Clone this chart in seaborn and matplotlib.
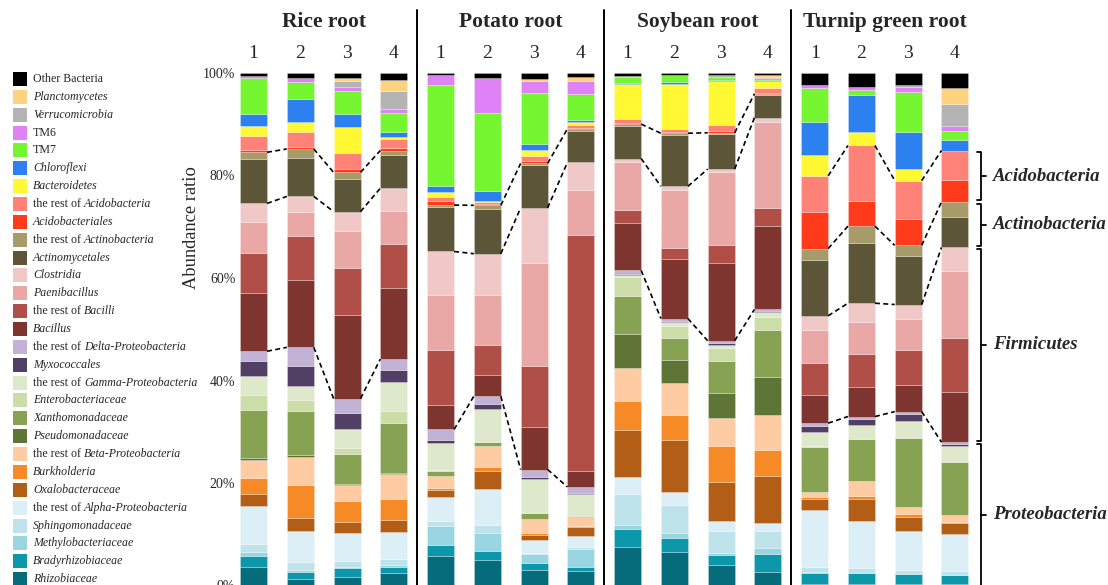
import numpy as np
import pandas as pd
import matplotlib
matplotlib.use("Agg")
import matplotlib.pyplot as plt
import seaborn as sns
from matplotlib.patches import Rectangle

# ---------------- data (legend order, top of stack first) ----------------
taxa = [
    "Other Bacteria", "Planctomycetes", "Verrucomicrobia", "TM6", "TM7",
    "Chloroflexi", "Bacteroidetes", "the rest of Acidobacteria", "Acidobacteriales",
    "the rest of Actinobacteria", "Actinomycetales", "Clostridia", "Paenibacillus",
    "the rest of Bacilli", "Bacillus", "the rest of Delta-Proteobacteria", "Myxococcales",
    "the rest of Gamma-Proteobacteria", "Enterobacteriaceae", "Xanthomonadaceae",
    "Pseudomonadaceae", "the rest of Beta-Proteobacteria", "Burkholderia",
    "Oxalobacteraceae", "the rest of Alpha-Proteobacteria", "Sphingomonadaceae",
    "Methylobacteriaceae", "Bradyrhizobiaceae", "Rhizobiaceae",
]
upright_labels = ["Other Bacteria", "TM6", "TM7"]

colors = [
    "#000000", "#FFD27F", "#B4B4B4", "#DE82F5", "#76F531",
    "#2D80F0", "#FFF833", "#FF8278", "#FF3B1C",
    "#A89B6A", "#5C5538", "#F0C8C8", "#E9A8A6",
    "#B04F48", "#7E342F", "#C2B2D6", "#523F65",
    "#DEE8CA", "#CCDDAA", "#88A253",
    "#5F7535", "#FFCBA2", "#F68A26",
    "#B25E16", "#DDEFF6", "#BEE3EB",
    "#9AD5E2", "#0C97AB", "#066B7B",
]

groups = ["Rice root", "Potato root", "Soybean root", "Turnip green root"]
replicates = ["1", "2", "3", "4"]

rice_1 = [0.6, 0, 0, 0.4, 7.0, 2.3, 2.1, 2.7, 0.4, 1.4, 8.6, 3.7, 5.9, 8.0, 11.3, 2.0, 2.9, 3.7, 2.9, 9.4, 0.3, 3.5, 3.3, 2.3, 7.4, 1.6, 0.8, 2.1, 3.6]
rice_2 = [0.9, 0, 0, 0.9, 3.3, 4.5, 2.0, 3.0, 0.3, 1.7, 7.6, 3.0, 4.8, 8.5, 13.3, 3.6, 4.0, 2.8, 2.0, 8.8, 0.3, 5.5, 6.4, 2.7, 6.0, 1.6, 0.3, 1.4, 1.3]
rice_3 = [1.0, 0.5, 1.3, 0.8, 4.4, 2.6, 5.2, 3.1, 0.6, 1.3, 6.4, 3.9, 7.1, 9.3, 16.4, 2.8, 3.1, 3.9, 1.0, 5.9, 0.2, 3.3, 4.1, 2.0, 5.5, 1.2, 0.2, 1.8, 1.7]
rice_4 = [1.4, 2.1, 3.6, 0.8, 3.6, 1.0, 0.4, 1.9, 0.4, 0.9, 6.5, 4.5, 6.5, 8.5, 14.0, 2.2, 2.2, 5.7, 2.5, 9.7, 0.2, 5.0, 4.1, 2.3, 5.3, 1.2, 0.4, 1.2, 2.4]
potato_1 = [0.3, 0, 0, 2.0, 19.8, 1.3, 0.9, 0.8, 0.8, 0.3, 8.8, 8.5, 10.8, 10.9, 4.7, 2.0, 0.7, 5.3, 0.1, 1.0, 0.1, 2.3, 0.4, 1.4, 4.7, 1.0, 3.7, 2.1, 5.8]
potato_2 = [1.0, 0, 0, 6.9, 15.3, 2.0, 0.2, 0.4, 0.2, 0.8, 8.7, 8.1, 9.8, 5.9, 4.2, 1.6, 0.9, 6.5, 0, 0.7, 0, 4.2, 0.8, 3.5, 7.2, 1.5, 3.6, 1.7, 5.0]
potato_3 = [1.2, 0.3, 0, 2.5, 9.8, 1.2, 1.2, 1.1, 0.4, 0.3, 8.4, 10.8, 20.2, 11.8, 8.4, 1.4, 0.4, 6.8, 0, 1.0, 0, 2.8, 0.5, 0.9, 2.5, 0.2, 1.8, 1.4, 3.0]
potato_4 = [0.7, 0.9, 0, 2.5, 5.2, 0.4, 0.6, 0.5, 0.2, 0.4, 6.2, 5.5, 8.8, 46.4, 3.1, 1.3, 0.2, 4.2, 0, 0.3, 0, 1.7, 0.2, 1.8, 2.2, 0.4, 3.5, 0.8, 2.8]
soybean_1 = [0.5, 0, 0.2, 0, 1.2, 0.2, 7.0, 0.8, 0.2, 0.3, 6.5, 0.7, 9.4, 2.6, 9.4, 0.7, 0.2, 0.4, 3.8, 7.5, 6.8, 6.4, 5.8, 9.2, 3.4, 6.2, 0.8, 3.5, 7.6]
soybean_2 = [0.3, 0, 0, 0, 1.5, 0.3, 8.8, 0.7, 0.2, 0.3, 10.1, 0.8, 11.3, 2.1, 11.7, 0.5, 0.2, 0.8, 2.3, 4.4, 4.5, 6.2, 4.8, 10.3, 2.6, 5.5, 0.9, 2.7, 6.6]
soybean_3 = [0.3, 0, 0.4, 0, 0.6, 0.3, 8.6, 1.2, 0.3, 0.3, 6.8, 0.6, 14.3, 3.4, 15.3, 0.5, 0.4, 0.5, 2.5, 6.3, 4.9, 5.5, 7.0, 7.7, 1.9, 4.4, 0.3, 2.0, 4.0]
soybean_4 = [0.3, 0.4, 0.1, 0.1, 0.5, 0.2, 1.4, 0.9, 0.2, 0.3, 4.4, 0.8, 17.0, 3.5, 16.4, 0.4, 0.2, 0.8, 2.7, 9.1, 7.6, 6.8, 5.1, 9.4, 1.5, 3.4, 1.1, 3.5, 2.7]
turnip_1 = [2.3, 0, 0, 0.7, 6.6, 6.6, 4.0, 7.1, 7.2, 2.3, 10.9, 2.8, 6.4, 6.4, 5.5, 0.5, 1.3, 2.6, 0.2, 9.0, 0, 1.0, 0.3, 2.2, 11.1, 1.1, 0.2, 2.1, 0.3]
turnip_2 = [2.7, 0, 0, 0.6, 1.0, 7.3, 2.6, 10.9, 4.9, 3.4, 11.7, 3.6, 6.4, 6.5, 5.7, 0.4, 1.2, 2.8, 0, 8.2, 0, 3.0, 0.5, 4.4, 9.1, 1.1, 0, 2.1, 0.3]
turnip_3 = [2.3, 0, 0.4, 1.0, 7.8, 7.3, 2.3, 7.5, 5.2, 2.1, 9.5, 2.9, 6.0, 6.8, 5.3, 0.4, 1.4, 3.3, 0, 13.7, 0, 1.3, 0.6, 2.7, 7.6, 0.8, 0, 2.0, 0.3]
turnip_4 = [2.9, 3.1, 4.4, 1.0, 1.7, 2.1, 0, 5.7, 4.4, 2.9, 6.0, 4.6, 13.1, 10.7, 9.8, 0.3, 0.5, 3.1, 0, 10.3, 0, 1.4, 0.3, 2.1, 7.3, 0.8, 0, 1.7, 0.3]

phyla = ["Acidobacteria", "Actinobacteria", "Firmicutes", "Proteobacteria"]

bars = [rice_1, rice_2, rice_3, rice_4, potato_1, potato_2, potato_3, potato_4,
        soybean_1, soybean_2, soybean_3, soybean_4, turnip_1, turnip_2, turnip_3, turnip_4]

# ---------------- build table ----------------
rows = []
for b, vals in enumerate(bars):
    for t, v in zip(taxa, vals):
        rows.append({"bar": b, "taxon": t, "value": v})
df = pd.DataFrame(rows)

sns.set_theme(style="white")
plt.rcParams["font.family"] = ["Liberation Serif", "DejaVu Serif"]

W, H = 1108, 585
fig = plt.figure(figsize=(W / 100, H / 100), dpi=100)
ax = fig.add_axes([239.5 / W, -0.5 / H, 729.5 / W, 512.5 / H])

shrink = 0.577
sns.histplot(data=df, x="bar", hue="taxon", weights="value", hue_order=taxa,
             palette=dict(zip(taxa, colors)), multiple="fill", discrete=True,
             shrink=shrink, alpha=1, edgecolor=(1, 1, 1, 0.35), linewidth=0.5,
             legend=False, ax=ax)

ax.set_xlim(-0.3, 15.3)
ax.set_ylim(0, 1)
ax.set_xticks([])
ax.set_yticks([0, 0.2, 0.4, 0.6, 0.8, 1.0])
ax.set_yticklabels(["0%", "20%", "40%", "60%", "80%", "100%"])
ax.tick_params(axis="y", length=0, pad=3, labelsize=10)
ax.set_xlabel("")
ax.set_ylabel("")
sns.despine(ax=ax, left=True, bottom=True)

# ---------------- cumulative boundaries ----------------
arr = np.array(bars, dtype=float)
frac = arr / arr.sum(axis=1, keepdims=True)


def top_of(name):
    return frac[:, taxa.index(name):].sum(axis=1)


acido_top = top_of("the rest of Acidobacteria")
actino_top = top_of("the rest of Actinobacteria")
actino_bot = top_of("Clostridia")
firm_bot = top_of("the rest of Delta-Proteobacteria")

hw = shrink / 2
for g in range(4):
    bset = [actino_top, actino_bot, firm_bot]
    if g == 3:
        bset = [acido_top] + bset
    for c in bset:
        for k in range(3):
            i = 4 * g + k
            ax.plot([i + hw, i + 1 - hw], [c[i], c[i + 1]], color="black",
                    lw=1.2, ls=(0, (3, 2)), clip_on=False, zorder=5)

# group separators, titles, replicate numbers
for xs in [3.5, 7.5, 11.5]:
    ax.plot([xs, xs], [0, 1.123], color="black", lw=1.4, clip_on=False)
for g, name in enumerate(groups):
    ax.text(4 * g + 1.5, 1.0995, name, ha="center", va="center",
            fontsize=15.5, fontweight="bold", clip_on=False)
    for k, lab in enumerate(replicates):
        ax.text(4 * g + k, 1.038, lab, ha="center", va="center",
                fontsize=14, clip_on=False)

# phylum brackets (from last bar)
j = 15
spans = [(actino_top[j], acido_top[j]), (actino_bot[j], actino_top[j]),
         (firm_bot[j], actino_bot[j]), (0.0, firm_bot[j])]
x0, x1, xt, xtxt = 15.47, 15.555, 15.66, 15.81
for (lo, hi), name in zip(spans, phyla):
    lo2 = lo + 0.003 if lo > 0 else -0.01
    hi2 = hi - 0.003
    ax.plot([x0, x1, x1, x0], [hi2, hi2, lo2, lo2], color="black", lw=1.3,
            clip_on=False)
    mid = (lo + hi) / 2 if lo > 0 else (lo2 + hi2) / 2 + 0.005
    ax.plot([x1, xt], [mid, mid], color="black", lw=1.3, clip_on=False)
    ax.text(xtxt, mid, name, ha="left", va="center", fontsize=13.5,
            fontweight="bold", fontstyle="italic", clip_on=False)

# y label
fig.text(191 / W, 1 - 228 / H, "Abundance ratio", rotation=90, ha="center",
         va="center", fontsize=13.3)

# ---------------- legend (manual) ----------------
renderer = fig.canvas.get_renderer()
lfs = 8.6
space_px = 0.25 * lfs * 100 / 72
for i, (lab, col) in enumerate(zip(taxa, colors)):
    yc = 79 + i * 17.86
    fig.add_artist(Rectangle((13 / W, 1 - (yc + 7) / H), 14 / W, 14 / H,
                             transform=fig.transFigure, facecolor=col,
                             edgecolor="none"))
    if lab in upright_labels:
        fig.text(33 / W, 1 - yc / H, lab, ha="left", va="center", fontsize=lfs)
    elif lab.startswith("the rest of "):
        t = fig.text(33 / W, 1 - yc / H, "the rest of", ha="left", va="center",
                     fontsize=lfs)
        x_end = t.get_window_extent(renderer=renderer).x1 + space_px
        fig.text(x_end / W, 1 - yc / H, lab[len("the rest of "):], ha="left",
                 va="center", fontsize=lfs, fontstyle="italic")
    else:
        fig.text(33 / W, 1 - yc / H, lab, ha="left", va="center", fontsize=lfs,
                 fontstyle="italic")

fig.savefig("out.png", dpi=100)
